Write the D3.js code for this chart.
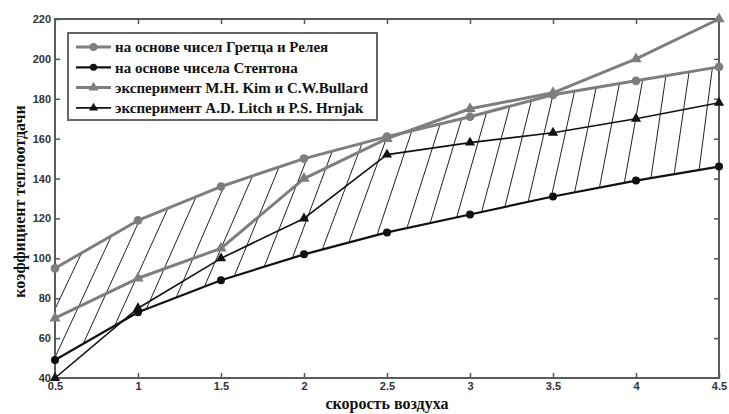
<!DOCTYPE html>
<html>
<head>
<meta charset="utf-8">
<script src="https://cdn.jsdelivr.net/npm/d3@7"></script>
<style>
  body { margin: 0; background: #fff; }
  svg { display: block; }
</style>
</head>
<body>
<div id="chart"></div>
<script>
let width = 729;
let height = 414;
let margin = ({ top: 19, right: 9, bottom: 35, left: 55 });

// speed of air, m/s
let speeds = [0.5, 1, 1.5, 2, 2.5, 3, 3.5, 4, 4.5];
let gretz = [95, 119, 136, 150, 161, 171, 182, 189, 196];
let stanton = [49, 73, 89, 102, 113, 122, 131, 139, 146];
let kim = [70, 90, 105, 140, 160, 175, 183, 200, 220];
let litch = [40, 75, 100, 120, 152, 158, 163, 170, 178];

let xTicks = [0.5, 1, 1.5, 2, 2.5, 3, 3.5, 4, 4.5];
let yTicks = [40, 60, 80, 100, 120, 140, 160, 180, 200, 220];

// hatch strokes between the two calculated curves (lower end on Stanton, upper end on Gretz)
let hatchLow = [0.30, 0.49, 0.67, 0.86, 1.05, 1.23, 1.40, 1.58, 1.76, 1.93, 2.11, 2.27, 2.44,
    2.62, 2.76, 2.92, 3.07, 3.21, 3.35, 3.49, 3.63, 3.78, 3.93, 4.09, 4.23, 4.38];
let hatchHigh = [0.66, 0.84, 1.01, 1.18, 1.35, 1.52, 1.69, 1.85, 2.02, 2.17, 2.35, 2.50, 2.65,
    2.82, 2.95, 3.10, 3.24, 3.37, 3.50, 3.63, 3.76, 3.90, 4.04, 4.18, 4.32, 4.46];

let series = [
    { name: "на основе чисел Гретца и Релея", values: gretz, color: "#7e7e7e", width: 3, marker: d3.symbolCircle, size: 60 },
    { name: "на основе чисела Стентона", values: stanton, color: "#111", width: 2.2, marker: d3.symbolCircle, size: 50 },
    { name: "эксперимент M.H. Kim и C.W.Bullard", values: kim, color: "#7e7e7e", width: 3, marker: d3.symbolTriangle, size: 55 },
    { name: "эксперимент A.D. Litch и P.S. Hrnjak", values: litch, color: "#111", width: 1.6, marker: d3.symbolTriangle, size: 45 }
];

let x = d3.scaleLinear().domain([0.5, 4.5]).range([margin.left, width - margin.right - 1]);
let y = d3.scaleLinear().domain([40, 220]).range([height - margin.bottom - 1, margin.top]);

// value of a curve at any speed (linear between points, extended past the ends)
function curveAt(values, s) {
    let i = Math.max(0, Math.min(speeds.length - 2, Math.floor((s - speeds[0]) / 0.5)));
    let t = (s - speeds[i]) / (speeds[i + 1] - speeds[i]);
    return values[i] + t * (values[i + 1] - values[i]);
}

const svg = d3.select("#chart").append("svg")
    .attr("width", width)
    .attr("height", height);

svg.append("defs").append("clipPath").attr("id", "plot")
    .append("rect")
    .attr("x", margin.left)
    .attr("y", margin.top)
    .attr("width", x(4.5) - margin.left)
    .attr("height", y(40) - margin.top);

// hatching
svg.append("g")
    .attr("clip-path", "url(#plot)")
    .selectAll("line")
    .data(hatchLow.map((d, i) => [d, hatchHigh[i]]))
    .join("line")
    .attr("x1", d => x(d[0]))
    .attr("y1", d => y(curveAt(stanton, d[0])))
    .attr("x2", d => x(d[1]))
    .attr("y2", d => y(curveAt(gretz, d[1])))
    .attr("stroke", "#222")
    .attr("stroke-width", 1);

// axes with inward ticks on all four sides
let tickFont = g => g.selectAll("text")
    .attr("font-family", "Liberation Sans, Arial, sans-serif")
    .attr("font-weight", "bold")
    .attr("font-size", 11)
    .attr("fill", "#333");

svg.append("g")
    .attr("transform", `translate(0,${y(40)})`)
    .call(d3.axisBottom(x).tickValues(xTicks).tickFormat(d => String(d)).tickSize(-5).tickSizeOuter(0).tickPadding(4))
    .call(g => g.select(".domain").remove())
    .call(tickFont)
    .call(g => g.selectAll("line").attr("stroke", "#555").attr("stroke-width", 1.5));
svg.append("g")
    .attr("transform", `translate(0,${y(220)})`)
    .call(d3.axisTop(x).tickValues(xTicks.slice(1, -1)).tickFormat("").tickSize(-5).tickSizeOuter(0))
    .call(g => g.select(".domain").remove())
    .call(g => g.selectAll("line").attr("stroke", "#555").attr("stroke-width", 1.5));
svg.append("g")
    .attr("transform", `translate(${x(0.5)},0)`)
    .call(d3.axisLeft(y).tickValues(yTicks).tickSize(-5).tickSizeOuter(0).tickPadding(4))
    .call(g => g.select(".domain").remove())
    .call(tickFont)
    .call(g => g.selectAll("line").attr("stroke", "#555").attr("stroke-width", 1.5));
svg.append("g")
    .attr("transform", `translate(${x(4.5)},0)`)
    .call(d3.axisRight(y).tickValues(yTicks.slice(1, -1)).tickFormat("").tickSize(-5).tickSizeOuter(0))
    .call(g => g.select(".domain").remove())
    .call(g => g.selectAll("line").attr("stroke", "#555").attr("stroke-width", 1.5));

svg.append("rect")
    .attr("x", x(0.5))
    .attr("y", y(220))
    .attr("width", x(4.5) - x(0.5))
    .attr("height", y(40) - y(220))
    .attr("fill", "none")
    .attr("stroke", "#5a5a5a")
    .attr("stroke-width", 2);

// series
let line = d3.line().x((d, i) => x(speeds[i])).y(d => y(d));
series.forEach(s => {
    svg.append("path")
        .attr("d", line(s.values))
        .attr("fill", "none")
        .attr("stroke", s.color)
        .attr("stroke-width", s.width)
        .attr("stroke-linejoin", "round");
    svg.append("g")
        .selectAll("path")
        .data(s.values)
        .join("path")
        .attr("transform", (d, i) => `translate(${x(speeds[i])},${y(d)})`)
        .attr("d", d3.symbol(s.marker, s.size))
        .attr("fill", s.color);
});

// legend
let legend = svg.append("g").attr("transform", "translate(68,33)");
legend.append("rect")
    .attr("width", 309)
    .attr("height", 87)
    .attr("fill", "#fff")
    .attr("stroke", "#666")
    .attr("stroke-width", 2);
series.forEach((s, i) => {
    let row = legend.append("g").attr("transform", `translate(0,${14 + i * 20.3})`);
    row.append("line")
        .attr("x1", 8).attr("x2", 43)
        .attr("stroke", s.color)
        .attr("stroke-width", s.width);
    row.append("path")
        .attr("transform", "translate(25.5,0)")
        .attr("d", d3.symbol(s.marker, s.size * 0.8))
        .attr("fill", s.color);
    row.append("text")
        .attr("x", 47)
        .attr("dy", "0.35em")
        .attr("font-family", "Liberation Serif, Times New Roman, serif")
        .attr("font-weight", "bold")
        .attr("font-size", 15)
        .attr("fill", "#111")
        .text(s.name);
});

// axis titles
svg.append("text")
    .attr("transform", `translate(25,${(y(40) + y(220)) / 2 + 3}) rotate(-90)`)
    .attr("text-anchor", "middle")
    .attr("font-family", "Liberation Serif, Times New Roman, serif")
    .attr("font-weight", "bold")
    .attr("font-size", 16)
    .attr("fill", "#111")
    .text("коэффициент теплоотдачи");
svg.append("text")
    .attr("x", (x(0.5) + x(4.5)) / 2)
    .attr("y", 409)
    .attr("text-anchor", "middle")
    .attr("font-family", "Liberation Serif, Times New Roman, serif")
    .attr("font-weight", "bold")
    .attr("font-size", 16)
    .attr("fill", "#111")
    .text("скорость воздуха");
</script>
</body>
</html>
